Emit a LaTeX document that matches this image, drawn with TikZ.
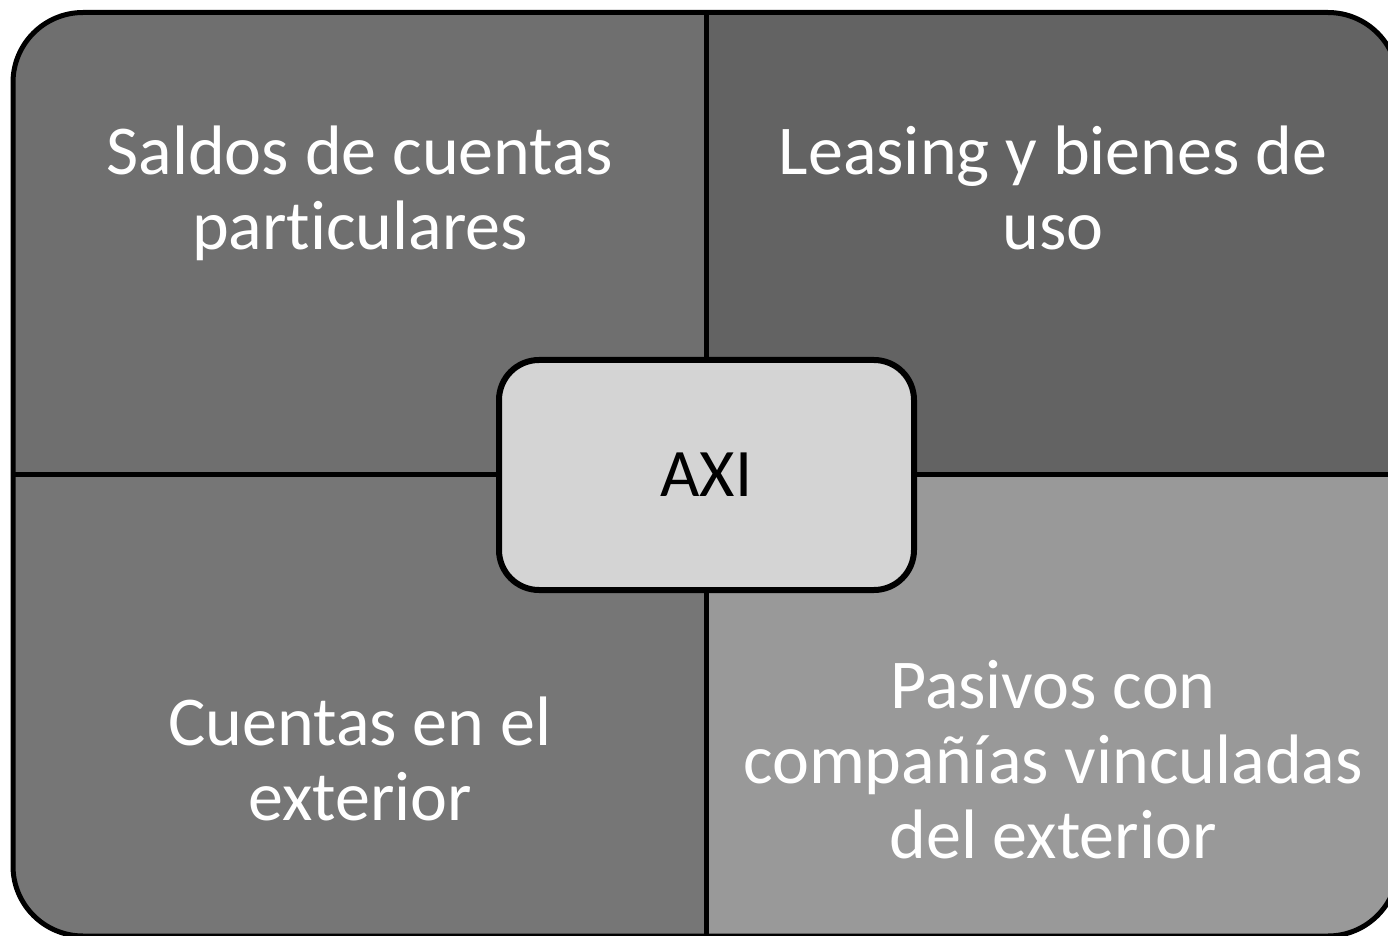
\documentclass[tikz,border=0pt]{standalone}
\usepackage{fontspec}
\setmainfont[Ligatures={NoCommon}]{Carlito}

\definecolor{quadNW}{RGB}{111,111,111}
\definecolor{quadNE}{RGB}{99,99,99}
\definecolor{quadSW}{RGB}{118,118,118}
\definecolor{quadSE}{RGB}{153,153,153}
\definecolor{hubfill}{RGB}{212,212,212}

\tikzset{every picture/.style={line width=2.5pt}}
\tikzset{
  quadtext/.style={text=white, align=center, inner sep=0pt, anchor=base,
    font=\fontsize{35}{37.5}\selectfont},
  hubbox/.style={draw, fill=hubfill, rounded corners=20pt, line width=3pt,
    minimum width=207.5pt, minimum height=115pt, inner sep=0pt,
    font=\fontsize{34}{40}\selectfont}
}

\begin{document}
\begin{tikzpicture}[x=0.5pt,y=0.5pt,yscale=-1,xscale=1]
	\useasboundingbox (0,0) rectangle (1388,936);
	\clip (0,0) rectangle (1388,936);
	
	%Shape: Quadrants
	\begin{scope}
		\clip [rounded corners=35pt] (13,12.5) rectangle (1398,936);
		\fill [quadNW] (13,12.5) rectangle (706,474);
		\fill [quadNE] (706,12.5) rectangle (1398,474);
		\fill [quadSW] (13,474) rectangle (706,936);
		\fill [quadSE] (706,474) rectangle (1398,936);
	\end{scope}
	%Shape: Outer border
	\draw [rounded corners=35pt] (13,12.5) rectangle (1398,936);
	%Straight Lines
	\draw (706,12.5) -- (706,936);
	%Straight Lines
	\draw (13,474) -- (1398,474);
	
	% Hub Node
	\node (axi) [hubbox] at (706.5,475) {AXI};
	
	% Text Node (anchor on last baseline)
	\node (saldos) [quadtext] at (360,250) {Saldos de cuentas\\particulares};
	% Text Node
	\node (leasing) [quadtext] at (1053,250) {Leasing y bienes de\\uso};
	% Text Node
	\node (cuentas) [quadtext] at (360,820) {Cuentas en el\\exterior};
	% Text Node
	\node (pasivos) [quadtext] at (1053,858) {Pasivos con\\compañías vinculadas\\del exterior};
	
\end{tikzpicture}
\end{document}
